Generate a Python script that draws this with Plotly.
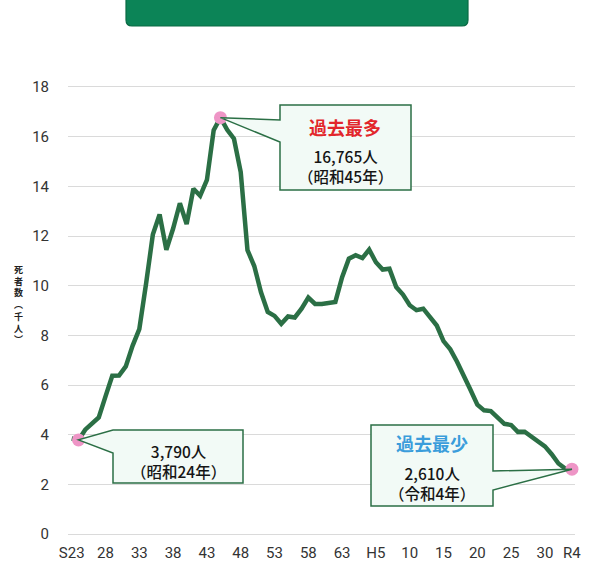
import plotly.graph_objects as go

# Traffic accident deaths in Japan (thousand persons), 1948-2022
years = list(range(1948, 2023))
deaths = [
    3.848, 3.790, 4.202, 4.429, 4.696, 5.544, 6.374, 6.379, 6.751, 7.575,
    8.248, 10.079, 12.055, 12.865, 11.445, 12.301, 13.318, 12.484, 13.904, 13.618,
    14.256, 16.257, 16.765, 16.278, 15.918, 14.574, 11.432, 10.792, 9.734, 8.945,
    8.783, 8.466, 8.760, 8.719, 9.073, 9.520, 9.262, 9.261, 9.317, 9.347,
    10.344, 11.086, 11.227, 11.109, 11.452, 10.942, 10.649, 10.684, 9.942, 9.640,
    9.211, 9.012, 9.073, 8.757, 8.396, 7.768, 7.436, 6.937, 6.415, 5.796,
    5.209, 4.979, 4.948, 4.691, 4.438, 4.388, 4.113, 4.117, 3.904, 3.694,
    3.532, 3.215, 2.839, 2.636, 2.610,
]

tick_years = [1948, 1953, 1958, 1963, 1968, 1973, 1978, 1983, 1988, 1993,
              1998, 2003, 2008, 2013, 2018, 2022]
tick_text = ["S23", "28", "33", "38", "43", "48", "53", "58", "63", "H5",
             "10", "15", "20", "25", "30", "R4"]

# Highlighted records: first year shown, all-time high, all-time low
highlight_years = [1949, 1970, 2022]
highlight_values = [3.790, 16.765, 2.610]

W, H = 590, 562
ML, MR, MT, MB = 68, 15, 85, 26
X_RANGE = [1947.45, 2022.45]
Y_RANGE = [-0.08, 18.08]

GREEN = "#2b6f45"
PINK = "#ee95c6"
BOX_FILL = "#f2faf6"


def px_x(px):
    return X_RANGE[0] + (px - ML) / (W - ML - MR) * (X_RANGE[1] - X_RANGE[0])


def px_y(py):
    return Y_RANGE[1] - (py - MT) / (H - MT - MB) * (Y_RANGE[1] - Y_RANGE[0])


def paper_x(px):
    return (px - ML) / (W - ML - MR)


def paper_y(py):
    return (H - MB - py) / (H - MT - MB)


def callout_path(pts, tip):
    # box outline in pixels; the pointer tip (data coords) goes where None is
    parts = []
    for p in pts:
        if p is None:
            parts.append(f"{tip[0]},{tip[1]}")
        else:
            parts.append(f"{px_x(p[0])},{px_y(p[1])}")
    return "M " + " L ".join(parts) + " Z"


fig = go.Figure()

fig.add_trace(go.Scatter(
    x=years, y=deaths, mode="lines",
    line=dict(color=GREEN, width=4.5),
    hoverinfo="skip", showlegend=False,
))

fig.add_trace(go.Scatter(
    x=highlight_years, y=highlight_values, mode="markers",
    marker=dict(color=PINK, size=13),
    cliponaxis=False, hoverinfo="skip", showlegend=False,
))

shapes = []

# Banner at the top of the panel
shapes.append(dict(
    type="path", xref="paper", yref="paper", layer="above",
    path=(f"M {paper_x(126)},{paper_y(-10)} L {paper_x(468)},{paper_y(-10)} "
          f"L {paper_x(468)},{paper_y(20)} Q {paper_x(468)},{paper_y(26)} {paper_x(462)},{paper_y(26)} "
          f"L {paper_x(132)},{paper_y(26)} Q {paper_x(126)},{paper_y(26)} {paper_x(126)},{paper_y(20)} Z"),
    fillcolor="#0c8457", line=dict(color="#0a6a44", width=1.2),
))

# Callout: first year
tip0 = (highlight_years[0], highlight_values[0])
shapes.append(dict(
    type="path", xref="x", yref="y", layer="above",
    path=callout_path([(113, 430), (243, 430), (243, 483), (113, 483), (113, 453), None], tip0),
    fillcolor=BOX_FILL, line=dict(color=GREEN, width=1.5),
))

# Callout: maximum
tip1 = (highlight_years[1], highlight_values[1])
shapes.append(dict(
    type="path", xref="x", yref="y", layer="above",
    path=callout_path([(280, 105), (411, 105), (411, 190), (280, 190), (280, 142), None, (280, 120)], tip1),
    fillcolor=BOX_FILL, line=dict(color=GREEN, width=1.5),
))

# Callout: minimum
tip2 = (highlight_years[2], highlight_values[2])
shapes.append(dict(
    type="path", xref="x", yref="y", layer="above",
    path=callout_path([(371, 425), (493, 425), (493, 471), None, (493, 490), (493, 506), (371, 506)], tip2),
    fillcolor=BOX_FILL, line=dict(color=GREEN, width=1.5),
))

JP = "Noto Sans CJK JP"
annotations = []


def label(px, py, text, size, color="#151515", weight=500):
    annotations.append(dict(
        x=paper_x(px), y=paper_y(py), xref="paper", yref="paper",
        text=text, showarrow=False,
        xanchor="center", yanchor="middle", align="center",
        font=dict(family=JP, size=size, color=color, weight=weight),
    ))


label(178, 461, "3,790人<br>（昭和24年）", 15.5)

label(345, 127, "過去最多", 18, "#e2262b", weight=700)
label(345, 166, "16,765人<br>（昭和45年）", 15.5)

label(432, 443, "過去最少", 18, "#3b9ddb", weight=700)
label(432, 483, "2,610人<br>（令和4年）", 15.5)

# Vertical axis title
annotations.append(dict(
    x=paper_x(18), y=paper_y(304), xref="paper", yref="paper",
    text="<b>死<br>者<br>数<br>︵<br>千<br>人<br>︶</b>", showarrow=False,
    xanchor="center", yanchor="middle", align="center",
    font=dict(family=JP, size=9, color="#222222"),
))

fig.update_layout(
    width=W, height=H,
    margin=dict(l=ML, r=MR, t=MT, b=MB, autoexpand=False),
    paper_bgcolor="white", plot_bgcolor="white",
    shapes=shapes, annotations=annotations,
    xaxis=dict(
        range=X_RANGE, tickmode="array", tickvals=tick_years, ticktext=tick_text,
        showgrid=False, zeroline=False, showline=False, ticks="",
        automargin=False, ticklabelstandoff=6,
        tickfont=dict(family="Roboto", size=15, color="#333333"),
    ),
    yaxis=dict(
        range=Y_RANGE, tickmode="array", tickvals=[0, 2, 4, 6, 8, 10, 12, 14, 16, 18],
        showgrid=True, gridcolor="#dadada", gridwidth=1,
        zeroline=False, showline=False, ticks="",
        automargin=False, ticklabelstandoff=18,
        tickfont=dict(family="Roboto", size=15, color="#333333"),
    ),
)

fig.write_html("out.html")
